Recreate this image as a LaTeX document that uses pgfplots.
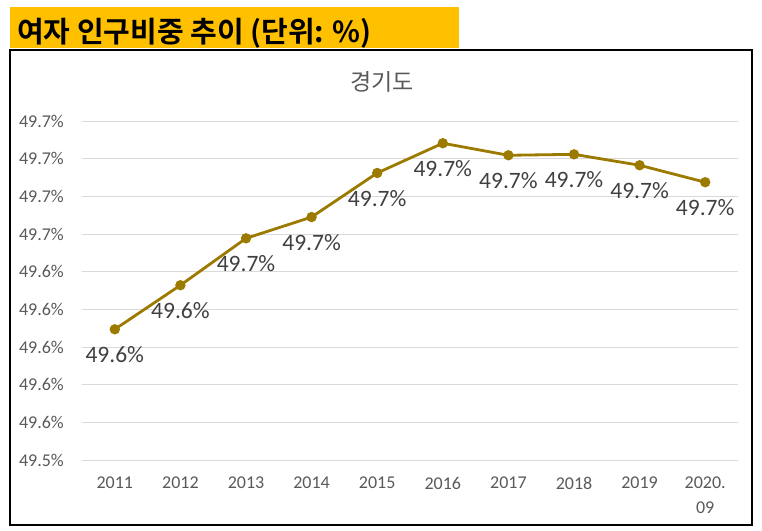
\documentclass[border=0pt]{standalone}
\usepackage{pgfplots}
\pgfplotsset{compat=1.18}
\usepackage{fontspec}
\setmainfont{Carlito}
\newfontfamily\kr{Noto Sans CJK KR}[BoldFont={Noto Sans CJK KR Bold}]
\definecolor{gold}{HTML}{9C7A00}
\definecolor{ban}{HTML}{FFC000}
\definecolor{gridc}{HTML}{D9D9D9}
\definecolor{tickc}{HTML}{595959}
\definecolor{labc}{HTML}{404040}
\begin{document}
\begin{tikzpicture}[x=1pt,y=1pt]
\useasboundingbox (0,0) rectangle (762,-530);
\fill[ban] (10,-7) rectangle (459,-48);
\node[anchor=base west, inner sep=0] at (17,-42) {\kr\bfseries\fontsize{29}{32}\selectfont 여자 인구비중 추이 (단위: \%)};
\draw[black, line width=2pt] (10,-50) rectangle (752,-525);
\node[text=tickc] at (382,-82) {\kr\fontsize{23}{25}\selectfont 경기도};
\begin{axis}[
  at={(82pt,-460pt)}, anchor=south west,
  scale only axis, width=656pt, height=339pt,
  xmin=-0.5, xmax=9.5, ymin=49.54, ymax=49.72,
  clip=false,
  axis line style={draw=none},
  major tick length=0pt,
  ytick={49.54,49.56,49.58,49.60,49.62,49.64,49.66,49.68,49.70,49.72},
  yticklabels={49.5\%,49.6\%,49.6\%,49.6\%,49.6\%,49.6\%,49.7\%,49.7\%,49.7\%,49.7\%},
  xtick={0,1,2,3,4,5,6,7,8,9},
  xticklabels={2011,2012,2013,2014,2015,2016,2017,2018,2019,{2020.\\09}},
  ymajorgrids, grid style={color=gridc, line width=1pt},
  yticklabel style={anchor=east, inner sep=0pt, xshift=-18pt, text=tickc, font=\fontsize{18}{20}\selectfont},
  xticklabel style={anchor=north, inner sep=0pt, yshift=-17pt, align=center, text=tickc, font=\fontsize{18}{25}\selectfont},
]
\addplot[gold, line width=2.8pt, mark=*, mark size=3.7pt, mark options={solid, fill=gold, draw=none},
  nodes near coords={\pgfplotspointmeta\%}, point meta=explicit symbolic,
  every node near coord/.style={anchor=center, yshift=-25.5pt, font=\fontsize{23.5}{25}\selectfont, text=labc, inner sep=0pt}]
  table[meta=lab] {
x y lab
0 49.6094 49.6
1 49.6328 49.6
2 49.6577 49.7
3 49.6690 49.7
4 49.6924 49.7
5 49.7082 49.7
6 49.7018 49.7
7 49.7023 49.7
8 49.6965 49.7
9 49.6875 49.7
};
\end{axis}
\end{tikzpicture}
\end{document}
